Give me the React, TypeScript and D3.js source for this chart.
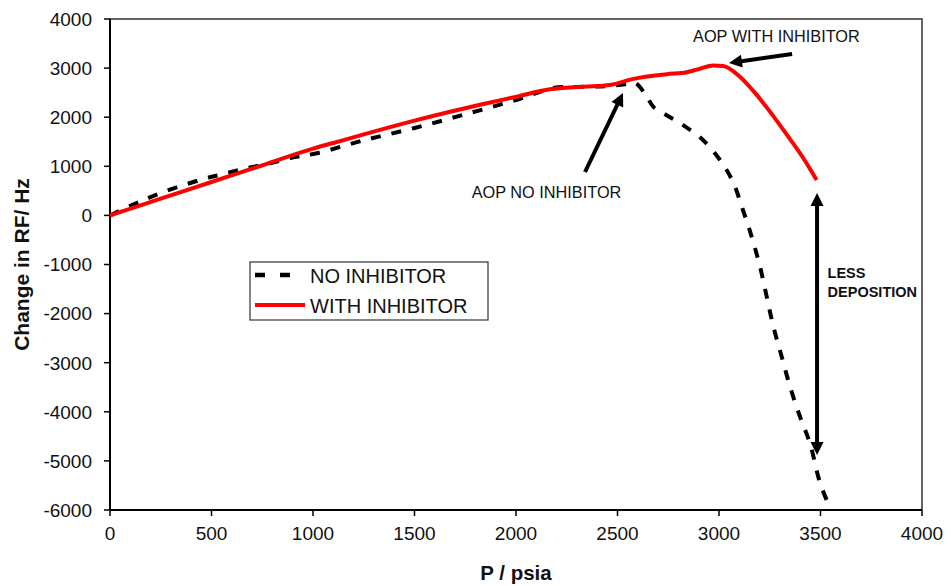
import React from "react";
import * as d3 from "d3";

// Pressure (psia) vs. change in resonant frequency (Hz)
const noInhibitorP = [0, 120, 246, 443, 557, 673, 788, 903, 1018, 1250, 1500, 1750, 2000, 2183, 2300, 2450, 2540, 2586, 2640, 2677, 2750, 2823, 2921, 3005, 3069, 3118, 3161, 3202, 3235, 3268, 3309, 3350, 3399, 3448, 3498, 3547, 3556];
const noInhibitorRF = [0, 230, 450, 721, 843, 960, 1061, 1183, 1265, 1530, 1780, 2060, 2350, 2595, 2615, 2635, 2670, 2700, 2450, 2210, 2020, 1841, 1536, 1128, 680, 110, -434, -1044, -1655, -2267, -2878, -3489, -4100, -4642, -5450, -5960, -6050];

const withInhibitorP = [0, 250, 500, 750, 1000, 1100, 1250, 1500, 1675, 1839, 2003, 2167, 2332, 2463, 2578, 2742, 2841, 2900, 2972, 3021, 3103, 3170, 3235, 3333, 3410, 3481];
const withInhibitorRF = [0, 340, 680, 1020, 1360, 1475, 1650, 1930, 2112, 2269, 2418, 2568, 2621, 2656, 2780, 2875, 2915, 2980, 3055, 3043, 2825, 2530, 2200, 1650, 1200, 721];

const xTicks = [0, 500, 1000, 1500, 2000, 2500, 3000, 3500, 4000];
const yTicks = [4000, 3000, 2000, 1000, 0, -1000, -2000, -3000, -4000, -5000, -6000];

const seriesNames = ["NO INHIBITOR", "WITH INHIBITOR"];

// Annotation anchors in data units: [P, RF]
const aopWithLabel = [2872, 3532];
const aopWithArrow = [[3360, 3287], [3049, 3104]];
const aopNoLabel = [1782, 354];
const aopNoArrow = [[2340, 884], [2527, 2493]];
const depositionArrow = [[3483, 456], [3483, -4880]];
const depositionLabel = [3535, -1275];
const depositionLines = ["LESS", "DEPOSITION"];

const W = 951;
const H = 586;
const M = { left: 110, right: 922, top: 19, bottom: 510 };
const FONT = "'Liberation Sans', Arial, sans-serif";

function zip(a: number[], b: number[]): [number, number][] {
  return a.map((v, i) => [v, b[i]]);
}

function arrowHead(from: [number, number], to: [number, number], len = 13, half = 6.5) {
  const dx = to[0] - from[0];
  const dy = to[1] - from[1];
  const d = Math.hypot(dx, dy);
  const ux = dx / d;
  const uy = dy / d;
  const bx = to[0] - ux * len;
  const by = to[1] - uy * len;
  return `${to[0]},${to[1]} ${bx - uy * half},${by + ux * half} ${bx + uy * half},${by - ux * half}`;
}

function Arrow({ a, b, both = false }: { a: [number, number]; b: [number, number]; both?: boolean }) {
  const len = 13;
  const dx = b[0] - a[0];
  const dy = b[1] - a[1];
  const d = Math.hypot(dx, dy);
  const ux = dx / d;
  const uy = dy / d;
  const end: [number, number] = [b[0] - ux * (len - 2), b[1] - uy * (len - 2)];
  const start: [number, number] = both ? [a[0] + ux * (len - 2), a[1] + uy * (len - 2)] : a;
  return (
    <g>
      <line x1={start[0]} y1={start[1]} x2={end[0]} y2={end[1]} stroke="#000" strokeWidth={4} />
      <polygon points={arrowHead(a, b)} fill="#000" />
      {both && <polygon points={arrowHead(b, a)} fill="#000" />}
    </g>
  );
}

export default function App() {
  const x = d3.scaleLinear().domain([0, 4000]).range([M.left, M.right]);
  const y = d3.scaleLinear().domain([-6000, 4000]).range([M.bottom, M.top]);

  const dashedLine = d3
    .line<[number, number]>()
    .x((d) => x(d[0]))
    .y((d) => y(d[1]))
    .curve(d3.curveCatmullRom.alpha(0.5));

  const solidLine = d3
    .line<[number, number]>()
    .x((d) => x(d[0]))
    .y((d) => y(d[1]))
    .curve(d3.curveMonotoneX);

  const noPath = dashedLine(zip(noInhibitorP, noInhibitorRF)) || "";
  const withPath = solidLine(zip(withInhibitorP, withInhibitorRF)) || "";

  const px = (p: number[]): [number, number] => [x(p[0]), y(p[1])];

  return (
    <svg
      width={W}
      height={H}
      style={{ position: "absolute", left: 0, top: 0, background: "#fff" }}
      fontFamily={FONT}
    >
      <defs>
        <clipPath id="plot-clip">
          <rect x={M.left} y={M.top} width={M.right - M.left} height={M.bottom - M.top} />
        </clipPath>
      </defs>
      <rect x={0} y={0} width={W} height={H} fill="#fff" />

      {/* plot frame */}
      <rect
        x={M.left}
        y={M.top}
        width={M.right - M.left}
        height={M.bottom - M.top}
        fill="none"
        stroke="#333"
        strokeWidth={1.5}
      />
      <line x1={M.left} y1={M.top} x2={M.left} y2={M.bottom} stroke="#000" strokeWidth={2} />
      <line x1={M.left} y1={M.bottom} x2={M.right} y2={M.bottom} stroke="#000" strokeWidth={2} />

      {/* y axis */}
      {yTicks.map((t) => (
        <g key={`y${t}`}>
          <line x1={M.left - 6} x2={M.left} y1={y(t)} y2={y(t)} stroke="#000" strokeWidth={1.5} />
          <text x={M.left - 18} y={y(t)} dy="0.36em" textAnchor="end" fontSize={19} fill="#111">
            {t}
          </text>
        </g>
      ))}

      {/* x axis */}
      {xTicks.map((t) => (
        <g key={`x${t}`}>
          <line x1={x(t)} x2={x(t)} y1={M.bottom} y2={M.bottom + 6} stroke="#000" strokeWidth={1.5} />
          <text x={x(t)} y={540} textAnchor="middle" fontSize={19} fill="#111">
            {t}
          </text>
        </g>
      ))}

      <text x={(M.left + M.right) / 2} y={580} textAnchor="middle" fontSize={20.5} fontWeight="bold" fill="#111">
        P / psia
      </text>
      <text
        transform={`translate(29, ${(M.top + M.bottom) / 2}) rotate(-90)`}
        textAnchor="middle"
        fontSize={21}
        fontWeight="bold"
        fill="#111"
      >
        Change in RF/ Hz
      </text>

      {/* series */}
      <g clipPath="url(#plot-clip)">
        <path d={noPath} fill="none" stroke="#000" strokeWidth={4} strokeDasharray="10,11" />
        <path d={withPath} fill="none" stroke="#ff0000" strokeWidth={4} strokeLinejoin="round" />
      </g>

      {/* annotations */}
      <text x={x(aopWithLabel[0])} y={y(aopWithLabel[1])} fontSize={16.3} fill="#111">
        AOP WITH INHIBITOR
      </text>
      <Arrow a={px(aopWithArrow[0])} b={px(aopWithArrow[1])} />
      <text x={x(aopNoLabel[0])} y={y(aopNoLabel[1])} fontSize={16.3} fill="#111">
        AOP NO INHIBITOR
      </text>
      <Arrow a={px(aopNoArrow[0])} b={px(aopNoArrow[1])} />
      <Arrow a={px(depositionArrow[0])} b={px(depositionArrow[1])} both />
      {depositionLines.map((s, i) => (
        <text
          key={s}
          x={x(depositionLabel[0])}
          y={y(depositionLabel[1]) + i * 19}
          fontSize={14.5}
          fontWeight="bold"
          fill="#111"
        >
          {s}
        </text>
      ))}

      {/* legend */}
      <g>
        <rect x={250} y={262} width={238} height={58} fill="#fff" stroke="#333" strokeWidth={1.2} />
        <line x1={255} x2={292} y1={275} y2={275} stroke="#000" strokeWidth={4.5} strokeDasharray="10,15" />
        <text x={310} y={283} fontSize={20} fill="#111">
          {seriesNames[0]}
        </text>
        <line x1={255} x2={305} y1={305} y2={305} stroke="#ff0000" strokeWidth={4} />
        <text x={310} y={313} fontSize={20} fill="#111">
          {seriesNames[1]}
        </text>
      </g>
    </svg>
  );
}
